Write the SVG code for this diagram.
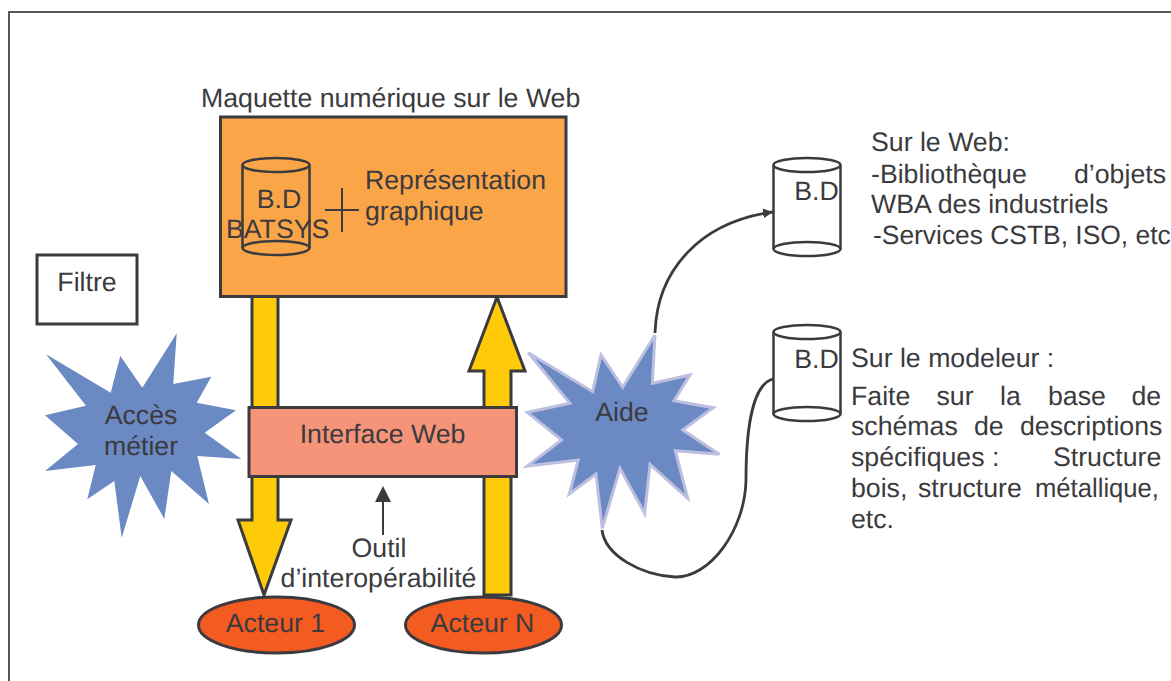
<svg xmlns="http://www.w3.org/2000/svg" width="1171" height="681" viewBox="0 0 1171 681">
<style>
text{font-family:"Liberation Sans",Arial,sans-serif;font-size:26.7px;fill:#3b3a3e;text-rendering:geometricPrecision}
.s{stroke:#3b3a3e;stroke-width:3;stroke-linejoin:miter}
.db{fill:none;stroke:#3b3a3e;stroke-width:2.5}
.c{fill:none;stroke:#3b3a3e;stroke-width:2.8}
.star{fill:#6b89c3}
.m{text-anchor:middle}
</style>
<defs><marker id="ah" markerUnits="userSpaceOnUse" markerWidth="12" markerHeight="12" refX="10" refY="6" orient="auto"><path d="M0,1 L10,6 L0,11 Z" fill="#3b3a3e"/></marker></defs>
<rect width="1171" height="681" fill="#fff"/>
<path d="M9,681 V12 H1171" fill="none" stroke="#58585a" stroke-width="2"/>
<text x="201" y="107">Maquette numérique sur le Web</text>
<g id="connectors">
<g id="arrow-down"><path class="s" fill="#ffcb08" d="M252,296 H278 V520 H291 L264,595 L238,520 H252 Z"/></g>
<g id="arrow-up"><path class="s" fill="#ffcb08" d="M484,595 H511 V371 H525 L497,297 L469,371 H484 Z"/></g>
<path class="c" d="M655,333 C657,270 700,222 773,212" marker-end="url(#ah)"/>
<path class="c" d="M602,530 C605,555 640,575 675,577 C710,578 745,530 746,480 C746,440 750,385 773,379"/>
<path d="M383,535 V490" stroke="#3b3a3e" stroke-width="2" fill="none"/>
<path d="M383,486 L391,502 H375 Z" fill="#3b3a3e"/>
</g>
<g id="maquette"><rect class="s" x="220.500" y="117" width="345.500" height="179.500" fill="#fba549"/>
<ellipse class="db" cx="276" cy="165" rx="33.500" ry="7"/><path class="db" d="M242.500,165 V248 M309.500,165 V248"/><ellipse class="db" cx="276" cy="248" rx="33.500" ry="7"/>
<text class="m" x="279" y="208">B.D</text><text x="226" y="238">BATSYS</text>
<path d="M325,210 H359 M342,188 V232" stroke="#3b3a3e" stroke-width="2" fill="none"/>
<text x="365" y="189">Représentation</text><text x="365" y="220">graphique</text></g>
<g id="filtre"><rect x="37" y="255" width="100" height="69" fill="#fff" stroke="#3b3a3e" stroke-width="3"/><text class="m" x="87" y="291">Filtre</text></g>
<g id="acces"><polygon class="star" points="46,354.300 110.700,392.700 120.300,356 142.300,387.700 176.700,333.300 173.300,384 211.300,376.700 196.700,402.700 236,410.300 204.700,432.700 241.300,459 197.300,456 209,504 171.300,471 164.300,519 140.300,476 121.700,537.700 114.300,481 87.300,499.300 95.700,465 45,471 78,444 45,415.300 86,405.700"/><text class="m" x="141" y="424">Accès</text><text class="m" x="141" y="455">métier</text></g>
<g id="interface"><rect class="s" x="249" y="407.500" width="267.500" height="69" fill="#f6947a"/><text class="m" x="382.500" y="443">Interface Web</text></g>
<g id="aide"><polygon class="star" stroke="#bdbfe0" stroke-width="3" points="528.300,352.700 592.700,391.700 601,355 622.700,387.300 655,335 652.300,383.300 690,375 674,400.700 713.300,407.700 682.700,430 719.300,454.300 675.300,450.700 687.700,498.300 650,464.300 644.700,513.300 620,468.300 602.300,528.300 596,474 569.300,494 578.300,460 527.300,466 561.700,440 527.300,412.300 570,403.300"/><text class="m" x="622" y="421">Aide</text></g>
<g id="outil"><text class="m" x="379" y="557">Outil</text><text class="m" x="378.500" y="587">d’interopérabilité</text></g>
<g id="acteur1"><ellipse class="s" cx="276.500" cy="625" rx="78" ry="28" fill="#f35b21"/><text class="m" x="275.500" y="632">Acteur 1</text></g>
<g id="acteurN"><ellipse class="s" cx="483.500" cy="625" rx="78" ry="28" fill="#f35b21"/><text class="m" x="482.500" y="632">Acteur N</text></g>
<g id="db1"><ellipse class="db" cx="807" cy="165" rx="33.500" ry="7"/><path class="db" d="M773.500,165 V249 M840.500,165 V249"/><ellipse class="db" cx="807" cy="249" rx="33.500" ry="7"/><text class="m" x="816.500" y="200">B.D</text></g>
<g id="db2"><ellipse class="db" cx="807" cy="332" rx="33.500" ry="7"/><path class="db" d="M773.500,332 V414 M840.500,332 V414"/><ellipse class="db" cx="807" cy="414" rx="33.500" ry="7"/><text class="m" x="816.500" y="368">B.D</text></g>
<g id="web-text"><text x="871" y="151">Sur le Web:</text><text x="871" y="182.500">-Bibliothèque</text><text x="1074" y="182.500">d’objets</text><text x="871" y="213">WBA des industriels</text><text x="873" y="244" style="font-size:26.400px">-Services CSTB, ISO, etc</text></g>
<g id="modeleur-text"><text x="851" y="367">Sur le modeleur :</text>
<text x="851" y="404.500">Faite</text><text x="936.500" y="404.500">sur</text><text x="1000" y="404.500">la</text><text x="1048" y="404.500">base</text><text x="1131.500" y="404.500">de</text>
<text x="851" y="434.500">schémas</text><text x="974" y="434.500">de</text><text x="1020" y="434.500">descriptions</text>
<text x="851" y="465.500">spécifiques :</text><text x="1053" y="465.500">Structure</text>
<text x="851" y="496.500">bois,</text><text x="918" y="496.500">structure</text><text x="1035" y="496.500" textLength="124" lengthAdjust="spacingAndGlyphs">métallique,</text><text x="851" y="527.500">etc.</text></g>
</svg>
